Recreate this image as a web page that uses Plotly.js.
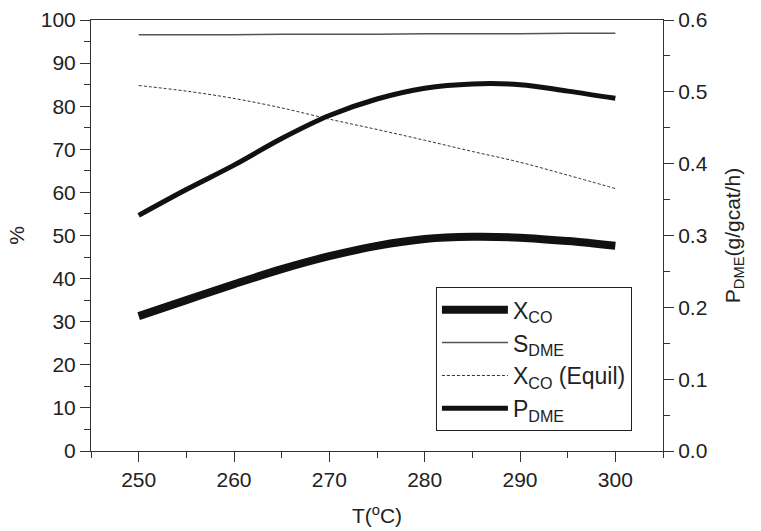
<!DOCTYPE html>
<html>
<head>
<meta charset="utf-8">
<script src="https://cdn.plot.ly/plotly-3.0.1.min.js"></script>
<style>html,body{margin:0;padding:0;background:#fff;}#chart{width:761px;height:531px;}</style>
</head>
<body>
<div id="chart"></div>
<script>
const temperature = [250, 255, 260, 265, 270, 275, 280, 285, 290, 295, 300];
const xCO        = [31.3, 35.0, 38.7, 42.2, 45.2, 47.6, 49.2, 49.7, 49.5, 48.7, 47.6];
const sDME       = [96.6, 96.6, 96.6, 96.7, 96.7, 96.7, 96.8, 96.8, 96.8, 96.9, 96.9];
const xCOEquil   = [84.8, 83.5, 81.8, 79.6, 77.0, 74.6, 72.1, 69.5, 67.0, 64.0, 60.9];
const pDME       = [0.328, 0.364, 0.398, 0.435, 0.467, 0.490, 0.505, 0.511, 0.510, 0.501, 0.491];

const FONT = 'Liberation Sans, Arial, sans-serif';
const TXT = '#222';
const AX = '#333';

const traces = [
  {x: temperature, y: xCO, name: 'X<sub>CO</sub>', mode: 'lines',
   line: {color: '#111', width: 8, shape: 'spline'}},
  {x: temperature, y: sDME, name: 'S<sub>DME</sub>', mode: 'lines',
   line: {color: '#555', width: 1.5, shape: 'spline'}},
  {x: temperature, y: xCOEquil, name: 'X<sub>CO</sub> (Equil)', mode: 'lines',
   line: {color: '#333', width: 1, dash: '3px,2px', shape: 'spline'}},
  {x: temperature, y: pDME, name: 'P<sub>DME</sub>', mode: 'lines', yaxis: 'y2',
   line: {color: '#111', width: 5, shape: 'spline'}}
];

const layout = {
  width: 761, height: 531,
  margin: {l: 91, r: 98, t: 20, b: 80},
  paper_bgcolor: '#fff', plot_bgcolor: '#fff',
  font: {family: FONT, size: 21, color: TXT},
  showlegend: true,
  legend: {
    x: 0.603, y: 0.38, xanchor: 'left', yanchor: 'top',
    bgcolor: '#fff', bordercolor: '#222', borderwidth: 1,
    font: {family: FONT, size: 23, color: TXT},
    itemwidth: 66, tracegroupgap: 0
  },
  xaxis: {
    range: [245, 305], dtick: 10, tick0: 250,
    ticks: 'outside', ticklen: 10, tickwidth: 1, tickcolor: AX,
    minor: {dtick: 5, ticks: 'outside', ticklen: 6, tickcolor: AX},
    showline: true, linecolor: AX, linewidth: 1, mirror: true,
    showgrid: false, zeroline: false,
    tickfont: {family: FONT, size: 21, color: TXT},
    title: {text: 'T(<sup>o</sup>C)', font: {family: FONT, size: 21, color: TXT}, standoff: 18}
  },
  yaxis: {
    range: [0, 100], dtick: 10,
    ticks: 'outside', ticklen: 10, tickwidth: 1, tickcolor: AX,
    minor: {dtick: 5, ticks: 'outside', ticklen: 6, tickcolor: AX},
    showline: true, linecolor: AX, linewidth: 1,
    showgrid: false, zeroline: false,
    tickfont: {family: FONT, size: 21, color: TXT},
    title: {text: '%', font: {family: FONT, size: 21, color: TXT}, standoff: 10}
  },
  yaxis2: {
    overlaying: 'y', side: 'right',
    range: [0, 0.6], dtick: 0.1, tickformat: '.1f',
    ticks: 'outside', ticklen: 10, tickwidth: 1, tickcolor: AX,
    minor: {dtick: 0.05, ticks: 'outside', ticklen: 6, tickcolor: AX},
    showline: true, linecolor: AX, linewidth: 1,
    showgrid: false, zeroline: false,
    tickfont: {family: FONT, size: 21, color: TXT},
    title: {text: 'P<sub>DME</sub>(g/gcat/h)', font: {family: FONT, size: 21, color: TXT}, standoff: 18}
  }
};

Plotly.newPlot('chart', traces, layout, {staticPlot: true, displayModeBar: false});
</script>
</body>
</html>
